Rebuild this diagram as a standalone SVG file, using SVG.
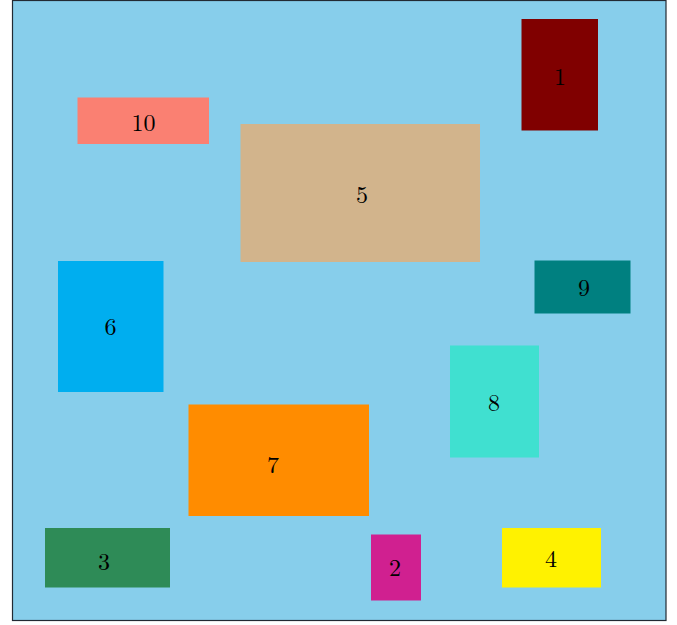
<svg xmlns="http://www.w3.org/2000/svg" width="677" height="625" viewBox="0 0 677 625">
<style>
text{font-family:"Latin Modern Roman","Liberation Serif","DejaVu Serif",serif;font-size:24px;text-anchor:middle;fill:#000}
</style>
<rect x="0" y="0" width="677" height="625" fill="#ffffff"/>
<rect id="frame" x="12.5" y="0.5" width="653.5" height="620" fill="#87CEEB" stroke="#222a33" stroke-width="1.2"/>
<g id="connectors"></g>
<g id="n1"><rect x="521.5" y="19" width="76.5" height="111.5" fill="#800000"/><text x="560" y="85">1</text></g>
<g id="n10"><rect x="77.5" y="97.5" width="131.5" height="46.5" fill="#FA8072"/><text x="143.5" y="131">10</text></g>
<g id="n5"><rect x="240.5" y="124" width="239.5" height="138" fill="#D2B48C"/><text x="362" y="203">5</text></g>
<g id="n6"><rect x="58" y="261" width="105.5" height="131" fill="#00AEEF"/><text x="110.5" y="335">6</text></g>
<g id="n9"><rect x="534.5" y="260.5" width="96" height="53" fill="#008080"/><text x="584" y="296">9</text></g>
<g id="n8"><rect x="450" y="345.5" width="89" height="112" fill="#40E0D0"/><text x="494" y="411">8</text></g>
<g id="n7"><rect x="188.5" y="404.5" width="180.5" height="111.5" fill="#FF8C00"/><text x="273" y="473">7</text></g>
<g id="n3"><rect x="45" y="528" width="125" height="59.5" fill="#2E8B57"/><text x="104" y="570">3</text></g>
<g id="n2"><rect x="371" y="534.5" width="50" height="66" fill="#D02090"/><text x="395" y="576">2</text></g>
<g id="n4"><rect x="502" y="528" width="99" height="59.5" fill="#FFF200"/><text x="551" y="567">4</text></g>
</svg>
